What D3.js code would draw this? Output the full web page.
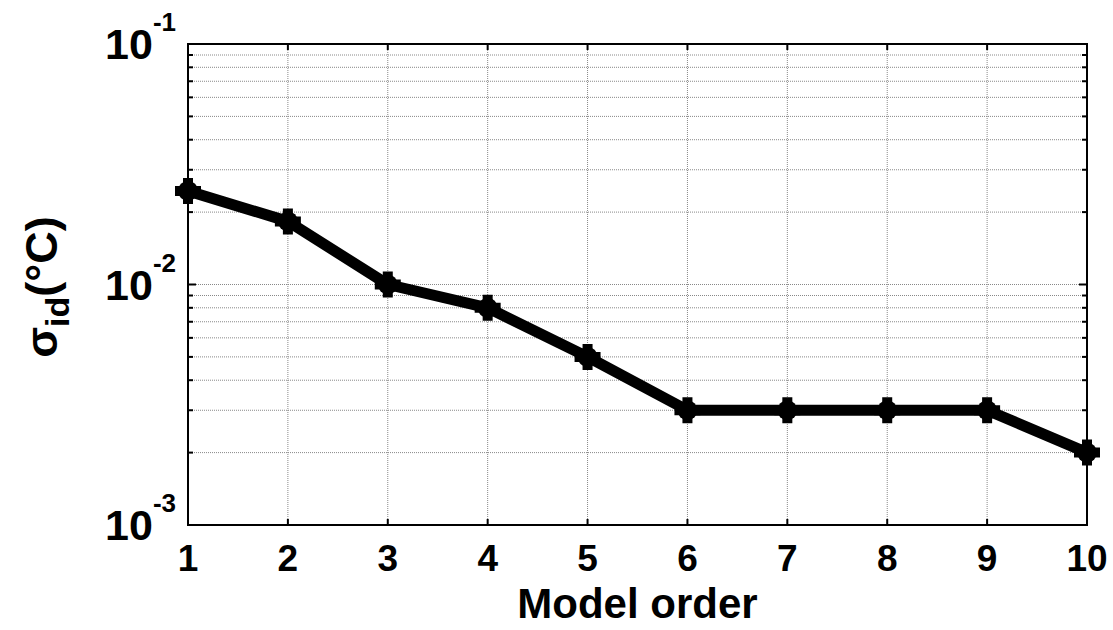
<!DOCTYPE html>
<html><head><meta charset="utf-8">
<script src="https://cdn.jsdelivr.net/npm/d3@7"></script>
<style>body{margin:0;background:#fff}svg{display:block}text{font-family:Arial,"Liberation Sans",sans-serif;font-weight:bold}</style>
</head><body>
<svg id="c" width="1113" height="630"></svg>
<script>
const orders = [1,2,3,4,5,6,7,8,9,10];
const sigma = [0.0245,0.0183,0.0100,0.0080,0.0050,0.0030,0.0030,0.0030,0.0030,0.0020];
const xTicks = [1,2,3,4,5,6,7,8,9,10];
const yMajor = [0.1,0.01,0.001];
const yExp = ["-1","-2","-3"];
const xLabel = "Model order";

const svg = d3.select("#c");
const L=188,R=1087,T=44,B=525;
const x = d3.scaleLinear().domain([1,10]).range([L,R]);
const y = d3.scaleLog().domain([0.001,0.1]).range([B,T]);

const minors = [];
[0.001,0.01].forEach(d=>{for(let k=2;k<=9;k++) minors.push(d*k);});
const yAll = yMajor.concat(minors);

// grid
const g = svg.append("g");
g.selectAll(".gx").data(xTicks.filter(d=>d>1&&d<10)).enter().append("line")
 .attr("x1",d=>x(d)).attr("x2",d=>x(d)).attr("y1",T).attr("y2",B)
 .attr("stroke","#888").attr("stroke-width",1).attr("stroke-dasharray","1,1");
g.selectAll(".gy").data(yAll.filter(d=>d>0.001&&d<0.1)).enter().append("line")
 .attr("x1",L).attr("x2",R).attr("y1",d=>y(d)).attr("y2",d=>y(d))
 .attr("stroke","#888").attr("stroke-width",1).attr("stroke-dasharray","1,1");

// ticks (inward)
const tk = svg.append("g").attr("stroke","#000").attr("stroke-width",2);
xTicks.forEach(d=>{
  tk.append("line").attr("x1",x(d)).attr("x2",x(d)).attr("y1",B).attr("y2",B-6);
  tk.append("line").attr("x1",x(d)).attr("x2",x(d)).attr("y1",T).attr("y2",T+6);
});
yMajor.forEach(d=>{
  tk.append("line").attr("x1",L).attr("x2",L+8).attr("y1",y(d)).attr("y2",y(d));
  tk.append("line").attr("x1",R).attr("x2",R-8).attr("y1",y(d)).attr("y2",y(d));
});
minors.forEach(d=>{
  tk.append("line").attr("x1",L).attr("x2",L+5).attr("y1",y(d)).attr("y2",y(d));
  tk.append("line").attr("x1",R).attr("x2",R-5).attr("y1",y(d)).attr("y2",y(d));
});

// box
svg.append("rect").attr("x",L).attr("y",T).attr("width",R-L).attr("height",B-T)
 .attr("fill","none").attr("stroke","#000").attr("stroke-width",2);

// line
const data = orders.map((o,i)=>({o,v:sigma[i]}));
svg.append("path").datum(data)
 .attr("d",d3.line().x(d=>x(d.o)).y(d=>y(d.v)))
 .attr("fill","none").attr("stroke","#000").attr("stroke-width",11).attr("stroke-linejoin","round");
svg.selectAll(".m").data(data).enter().append("path")
 .attr("transform",d=>`translate(${x(d.o)},${y(d.v)})`)
 .attr("d","M-8,0H8M0,-8V8").attr("stroke","#000").attr("stroke-width",10).attr("stroke-linecap","square");
svg.selectAll(".m2").data(data).enter().append("circle")
 .attr("cx",d=>x(d.o)).attr("cy",d=>y(d.v)).attr("r",10).attr("fill","#000");

// x tick labels
svg.selectAll(".xl").data(xTicks).enter().append("text")
 .attr("x",d=>x(d)).attr("y",571).attr("text-anchor","middle").attr("font-size",37).text(d=>d);

// y tick labels
yMajor.forEach((d,i)=>{
  const t = svg.append("text").attr("x",176).attr("y",y(d)+15).attr("text-anchor","end").attr("font-size",43);
  t.append("tspan").text("10");
  t.append("tspan").attr("font-size",26).attr("dy",-28).text(yExp[i]);
});

// axis titles
svg.append("text").attr("x",(L+R)/2).attr("y",618).attr("text-anchor","middle").attr("font-size",42).text(xLabel);
const yl = svg.append("text").attr("transform","translate(57,287) rotate(-90)").attr("text-anchor","middle").attr("font-size",45);
yl.append("tspan").text("σ");
yl.append("tspan").attr("font-size",34).attr("dy",12).text("id");
yl.append("tspan").attr("dy",-12).text("(°C)");
</script>
</body></html>
